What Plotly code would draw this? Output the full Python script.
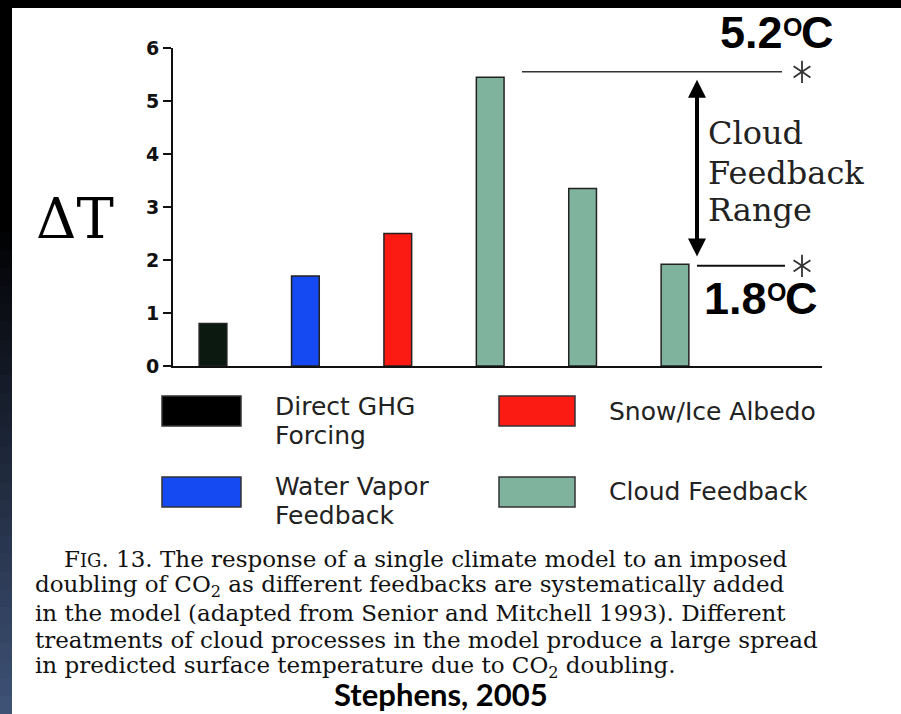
import plotly.graph_objects as go

# ---------------- data ----------------
categories = ["Direct GHG Forcing", "Water Vapor Feedback", "Snow/Ice Albedo",
              "Cloud Feedback (high)", "Cloud Feedback (mid)", "Cloud Feedback (low)"]
delta_t = [0.8, 1.7, 2.5, 5.45, 3.35, 1.92]
bar_colors = ["#0b1910", "#1549f2", "#fb1b12", "#80b39d", "#80b39d", "#80b39d"]
y_ticks = [0, 1, 2, 3, 4, 5, 6]
legend_labels = ["Direct GHG<br>Forcing", "Water Vapor<br>Feedback", "Snow/Ice Albedo", "Cloud Feedback"]
legend_colors = ["#000000", "#1549f2", "#fb1b12", "#80b39d"]
range_levels = [5.55, 1.89]
range_values = ["5.2", "1.8"]
range_text = ["Cloud", "Feedback", "Range"]
caption_lines = [
    "F<span style='font-size:18px'>IG</span>. 13. The response of a single climate model to an imposed",
    "doubling of CO<sub>2</sub> as different feedbacks are systematically added",
    "in the model (adapted from Senior and Mitchell 1993). Different",
    "treatments of cloud processes in the model produce a large spread",
    "in predicted surface temperature due to CO<sub>2</sub> doubling.",
]
source_text = "Stephens, 2005"

# ---------------- geometry helpers (pixels -> paper) ----------------
W, H = 901, 714
L, R, T, B = 173, 822, 48, 366


def px(x):
    return (x - L) / (R - L)


def py(y):
    return (B - y) / (B - T)


X0, DX = 213.0, 92.4  # pixel of first bar centre, spacing


def dx(pix):
    return (pix - X0) / DX


fig = go.Figure()

fig.add_trace(go.Bar(
    x=list(range(len(delta_t))), y=delta_t, width=0.3,
    marker=dict(color=bar_colors, line=dict(color="#222222", width=1.5)),
    hovertext=categories, showlegend=False,
))

# asterisks at the end of range lines (6-armed)
for sym in ["y-up-open", "y-down-open"]:
    fig.add_trace(go.Scatter(
        x=[dx(802), dx(802)], y=range_levels, mode="markers",
        marker=dict(symbol=sym, size=14, color="#333333", line=dict(color="#333333", width=1.8)),
        showlegend=False, cliponaxis=False, hoverinfo="skip",
    ))

shapes = []
annotations = []

# range lines
shapes.append(dict(type="line", xref="x", yref="y", x0=dx(522), x1=dx(782),
                   y0=range_levels[0], y1=range_levels[0], line=dict(color="#333333", width=1.5)))
shapes.append(dict(type="line", xref="x", yref="y", x0=dx(697), x1=dx(785),
                   y0=range_levels[1], y1=range_levels[1], line=dict(color="#111111", width=2)))

# double arrow
annotations.append(dict(x=dx(697), y=5.40, ax=dx(697), ay=2.04, xref="x", yref="y",
                        axref="x", ayref="y", text="", showarrow=True, arrowhead=2,
                        startarrowhead=2, arrowside="end+start", arrowwidth=4,
                        arrowsize=0.9, startarrowsize=0.9, arrowcolor="#000000"))

# cloud feedback range text
for i, t in enumerate(range_text):
    annotations.append(dict(x=px(706), y=py([133, 173, 210][i]), xref="paper", yref="paper",
                            text=t, showarrow=False, xanchor="left", yanchor="middle",
                            font=dict(family="DejaVu Serif", size=32, color="#222222")))

# 5.2 / 1.8 degC labels: number, superscript O, C
big = dict(family="Liberation Sans", size=45, color="#000000", weight="bold")
small = dict(family="Liberation Sans", size=25, color="#000000", weight="bold")
label_pos = [(718, 33), (702, 298)]  # left x, cap-centre y
for val, (lx, ly) in zip(range_values, label_pos):
    annotations.append(dict(x=px(lx), y=py(ly), xref="paper", yref="paper", text=val,
                            showarrow=False, xanchor="left", yanchor="middle", font=big))
    annotations.append(dict(x=px(lx + 63), y=py(ly - 6), xref="paper", yref="paper", text="O",
                            showarrow=False, xanchor="left", yanchor="middle", font=small))
    annotations.append(dict(x=px(lx + 81), y=py(ly), xref="paper", yref="paper", text="C",
                            showarrow=False, xanchor="left", yanchor="middle", font=big))

# Delta T label
annotations.append(dict(x=px(75), y=py(218), xref="paper", yref="paper", text="ΔT",
                        showarrow=False, xanchor="center", yanchor="middle",
                        font=dict(family="DejaVu Serif", size=56, color="#000000")))

# legend boxes + labels
box_pos = [(162, 241, 396, 426), (162, 241, 477, 507), (499, 575, 396, 426), (499, 575, 477, 507)]
text_pos = [(273, 406), (273, 486), (607, 411), (607, 491)]
for lab, col, (x0, x1, y0, y1), (tx, ty) in zip(legend_labels, legend_colors, box_pos, text_pos):
    shapes.append(dict(type="rect", xref="paper", yref="paper", x0=px(x0), x1=px(x1),
                       y0=py(y1), y1=py(y0), fillcolor=col, line=dict(color="#333333", width=1.5)))
    for k, part in enumerate(lab.split("<br>")):
        annotations.append(dict(x=px(tx), y=py(ty + 29 * k), xref="paper", yref="paper", text=part,
                                showarrow=False, xanchor="left", yanchor="middle",
                                font=dict(family="DejaVu Sans", size=25, color="#222222")))

# caption
cap_y = [559, 586, 613, 640, 667]
for i, line in enumerate(caption_lines):
    annotations.append(dict(x=px(62 if i == 0 else 33), y=py(cap_y[i]), xref="paper", yref="paper",
                            text=line, showarrow=False, xanchor="left", yanchor="middle",
                            font=dict(family="DejaVu Serif", size=23, color="#111111")))

annotations.append(dict(x=px(441), y=py(694), xref="paper", yref="paper", text=source_text,
                        showarrow=False, xanchor="center", yanchor="middle",
                        font=dict(family="Lato", size=31, color="#000000", weight="bold")))

# dark frame: top band and left gradient strip
shapes.append(dict(type="rect", xref="paper", yref="paper", x0=px(0), x1=px(W), y0=py(8), y1=py(0),
                   fillcolor="#000000", line=dict(width=0), layer="above"))
N = 40
for i in range(N):
    f = i / (N - 1)
    g = max(0.0, (f - 0.3) / 0.7)
    r_, g_, b_ = int(62 * g), int(82 * g), int(118 * g)
    shapes.append(dict(type="rect", xref="paper", yref="paper", x0=px(0), x1=px(12),
                       y0=py(H * (i + 1) / N + 1), y1=py(H * i / N), fillcolor=f"rgb({r_},{g_},{b_})",
                       line=dict(width=0), layer="above"))

fig.update_layout(
    width=W, height=H, autosize=False,
    margin=dict(l=L, r=W - R, t=T, b=H - B, pad=0),
    paper_bgcolor="white", plot_bgcolor="white", showlegend=False,
    bargap=0.7,
    xaxis=dict(range=[dx(L), dx(R)], showgrid=False, zeroline=False, showticklabels=False,
               ticks="", showline=True, linecolor="#111111", linewidth=2),
    yaxis=dict(range=[0, 6], tickvals=y_ticks, showgrid=False, zeroline=False,
               showline=True, linecolor="#111111", linewidth=2, ticks="outside",
               ticklen=8, tickwidth=2, tickcolor="#111111",
               tickfont=dict(family="DejaVu Sans", size=19, color="#111111", weight="bold")),
    shapes=shapes, annotations=annotations,
)

fig.write_html("out.html", post_script="document.body.style.margin='0px';",
               config={"displayModeBar": False})
